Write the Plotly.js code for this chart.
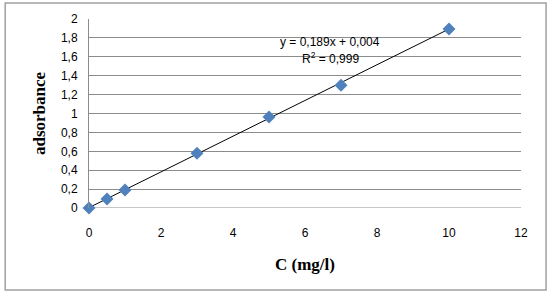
<!DOCTYPE html>
<html>
<head>
<meta charset="utf-8">
<script src="https://cdn.plot.ly/plotly-3.0.1.min.js"></script>
<style>
html,body{margin:0;padding:0;background:#fff;}
#chart{width:549px;height:293px;}
</style>
</head>
<body>
<div id="chart"></div>
<script>
var concentration = [0, 0.5, 1, 3, 5, 7, 10];
var absorbance = [0, 0.095, 0.19, 0.58, 0.963, 1.30, 1.894];
var slope = 0.189;
var intercept = 0.004;
var fitX = [0, 10];
var equationText = 'y = 0,189x + 0,004';
var r2Text = 'R<sup>2</sup> = 0,999';
var xTitle = 'C (mg/l)';
var yTitle = 'adsorbance';

var fitY = fitX.map(function (x) { return slope * x + intercept; });

var traces = [
  {
    x: fitX, y: fitY, type: 'scatter', mode: 'lines',
    line: {color: '#000000', width: 1}, hoverinfo: 'skip', cliponaxis: false
  },
  {
    x: concentration, y: absorbance, type: 'scatter', mode: 'markers',
    marker: {symbol: 'diamond', size: 10, color: '#4F81BD', line: {color: '#4F81BD', width: 0}},
    cliponaxis: false
  }
];

var layout = {
  width: 549, height: 293,
  margin: {l: 89, r: 28, t: 19, b: 85},
  paper_bgcolor: '#ffffff', plot_bgcolor: '#ffffff',
  showlegend: false,
  separators: ', ',
  font: {family: 'Liberation Sans, Arial, sans-serif', size: 12, color: '#000000'},
  xaxis: {
    range: [0, 12], dtick: 2, tick0: 0,
    showgrid: false, zeroline: false, showline: false,
    ticks: 'outside', ticklen: 14, tickcolor: 'rgba(0,0,0,0)',
    tickfont: {size: 12},
    title: {text: xTitle, font: {family: 'Liberation Serif, Times New Roman, serif', size: 17, weight: 'bold'}, standoff: 18}
  },
  yaxis: {
    range: [0, 2], dtick: 0.2, tick0: 0,
    showgrid: true, gridcolor: '#8c8c8c', gridwidth: 1,
    zeroline: false, showline: true, linecolor: '#8c8c8c', linewidth: 1,
    ticks: 'outside', ticklen: 8, tickcolor: 'rgba(0,0,0,0)',
    tickfont: {size: 12},
    title: {text: yTitle, font: {family: 'Liberation Serif, Times New Roman, serif', size: 17, weight: 'bold'}, standoff: 10}
  },
  shapes: [
    {type: 'rect', xref: 'paper', yref: 'paper', x0: -0.194, x1: 1.058, y0: -0.434, y1: 1.085,
     line: {color: '#a0a0a0', width: 1.5}, fillcolor: 'rgba(0,0,0,0)', layer: 'below'},
    {type: 'line', xref: 'paper', yref: 'y', x0: 0, x1: 1, y0: 0, y1: 0,
     line: {color: '#8c8c8c', width: 1}, layer: 'below'}
  ],
  annotations: [
    {x: 6.7, y: 1.76, xref: 'x', yref: 'y', text: equationText, showarrow: false,
     font: {family: 'Liberation Sans, Arial, sans-serif', size: 12, color: '#000000'}},
    {x: 6.7, y: 1.585, xref: 'x', yref: 'y', text: r2Text, showarrow: false,
     font: {family: 'Liberation Sans, Arial, sans-serif', size: 12, color: '#000000'}}
  ]
};

Plotly.newPlot('chart', traces, layout, {displayModeBar: false, staticPlot: true});
</script>
</body>
</html>
